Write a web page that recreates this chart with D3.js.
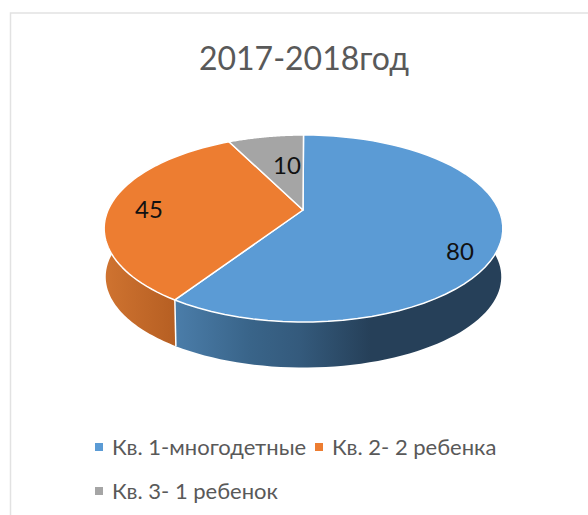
<!DOCTYPE html>
<html><head><meta charset="utf-8">
<script src="https://cdn.jsdelivr.net/npm/d3@7/dist/d3.min.js"></script>
<style>html,body{margin:0;padding:0;background:#fff}svg{display:block}text{font-family:Lato,"Open Sans",sans-serif}</style>
</head><body><svg id="c" width="588" height="515"></svg>
<script>
const title = "2017-2018год";
const categories = ["Кв. 1-многодетные", "Кв. 2- 2 ребенка", "Кв. 3- 1 ребенок"];
const values = [80, 45, 10];
const colors = ["#5b9bd5", "#ed7d31", "#a5a5a5"];

const svg = d3.select("#c");
const defs = svg.append("defs");
const grad = (id, stops) => {
  const g = defs.append("linearGradient").attr("id", id).attr("gradientUnits", "userSpaceOnUse")
    .attr("x1", stops[0][0]).attr("x2", stops[stops.length-1][0]).attr("y1", 0).attr("y2", 0);
  const x0 = stops[0][0], x1 = stops[stops.length-1][0];
  stops.forEach(s => g.append("stop").attr("offset", (s[0]-x0)/(x1-x0)).attr("stop-color", s[1]));
};
grad("side0", [[178,"#4a7ca8"],[250,"#396489"],[300,"#345a7c"],[370,"#264059"],[502,"#264059"]]);
grad("side1", [[105,"#cf7330"],[178,"#b55e22"]]);
grad("side2", [[105,"#7c7c7c"],[178,"#6c6c6c"]]);

// frame
svg.append("path").attr("d","M10.5 515V13H588").attr("fill","none").attr("stroke","#e2e2e2").attr("stroke-width",1.5);

// perspective projection of the pie disc
const cx = 303.5, A = 195.4, C = -0.198, P = 48.3, Q = 210;
const topFace = ang => {
  const u = Math.sin(ang), v = -Math.cos(ang), d = 1 + C*v;
  return [cx + A*u/d, (P*v + Q)/d];
};
const bottomFace = ang => {
  const [x, y] = topFace(ang);
  return [cx + (x-cx)*0.992, 367.5 + (y-322)*0.97];
};
const arcPts = (f, a0, a1) => d3.range(0, 61).map(i => f(a0 + (a1-a0)*i/60));
const line = d3.line();

const arcs = d3.pie().sort(null)(values);
const hub = [cx - 0.5, Q];
const lo = Math.PI*0.47, hi = Math.PI*1.53;

const g = svg.append("g");
arcs.forEach((a, i) => {
  const s = Math.max(a.startAngle, lo), e = Math.min(a.endAngle, hi);
  if (e <= s) return;
  g.append("path")
    .attr("d", line(arcPts(topFace, s, e).concat(arcPts(bottomFace, e, s))) + "Z")
    .attr("fill", `url(#side${i})`);
});
// white seams where visible slices meet on the side wall
arcs.forEach(a => {
  if (a.endAngle > lo && a.endAngle < hi) {
    g.append("path").attr("d", line([topFace(a.endAngle), bottomFace(a.endAngle)]))
      .attr("stroke", "#fff").attr("stroke-width", 1.5).attr("fill", "none");
  }
});
arcs.forEach((a, i) => {
  g.append("path")
    .attr("d", line([hub].concat(arcPts(topFace, a.startAngle, a.endAngle))) + "Z")
    .attr("fill", colors[i]).attr("stroke", "#fff").attr("stroke-width", 1.5).attr("stroke-linejoin","round");
});

// data labels, placed along each slice
const labelSpots = [[460, 250], [149, 208], [287, 164]];
values.forEach((v, i) => {
  svg.append("text").attr("x", labelSpots[i][0]).attr("y", labelSpots[i][1])
    .attr("text-anchor","middle").attr("dominant-baseline","central")
    .attr("font-size", 24).attr("fill", "#111").text(v);
});

svg.append("text").attr("x", 304).attr("y", 70).attr("text-anchor","middle")
  .attr("font-size", 32).attr("fill", "#595959").text(title);

const legendSpots = [[95, 447], [315, 447], [95, 491]];
categories.forEach((c, i) => {
  const [x, y] = legendSpots[i];
  svg.append("rect").attr("x", x).attr("y", y-4).attr("width", 8).attr("height", 8).attr("fill", colors[i]);
  svg.append("text").attr("x", x+17).attr("y", y-1).attr("dominant-baseline","central")
    .attr("font-size", 22).attr("fill", "#595959").text(c);
});
</script></body></html>
